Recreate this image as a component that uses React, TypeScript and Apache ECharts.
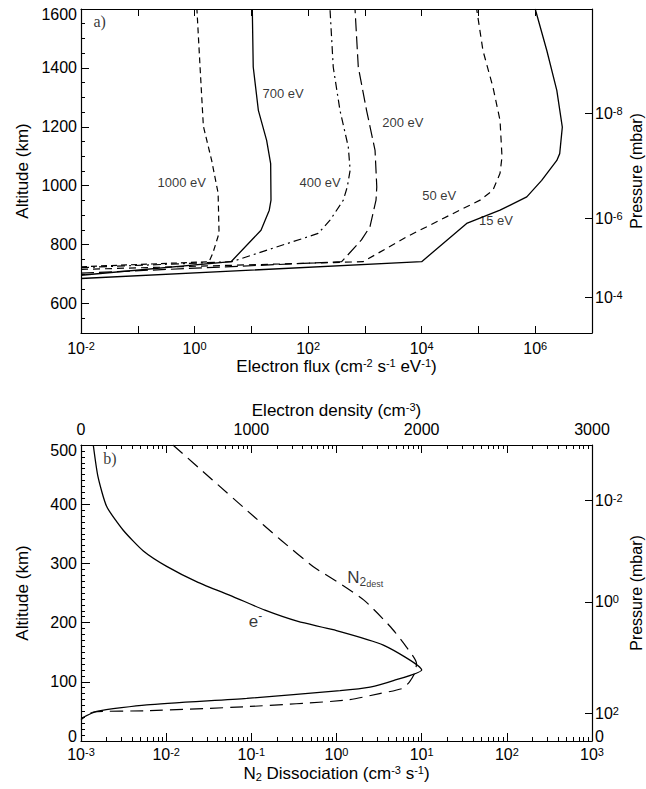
import React, { useEffect, useRef } from 'react';
import * as echarts from 'echarts';

const FONT = "'Liberation Sans', Arial, Helvetica, sans-serif";
const SERIF = "'Liberation Serif', 'Times New Roman', Times, serif";
const BLACK = '#000';

// ---------- Panel a: electron flux profiles (altitude km vs flux cm^-2 s^-1 eV^-1)
const alt15 = [685, 742, 872, 917, 962, 1018, 1086, 1109, 1199, 1324, 1459, 1600];
const flux15 = [1e-2, 1.0e4, 6.2e4, 2.4e5, 7.1e5, 1.3e6, 2.4e6, 2.7e6, 3.0e6, 2.4e6, 1.6e6, 1.0e6];
const alt50 = [716, 742, 827, 906, 951, 985, 1042, 1098, 1222, 1335, 1459, 1600];
const flux50 = [1e-2, 930, 5.5e3, 3.6e4, 1.07e5, 1.8e5, 2.4e5, 2.6e5, 2.4e5, 1.8e5, 1.2e5, 9.3e4];
const alt200 = [703, 742, 816, 861, 951, 996, 1120, 1256, 1403, 1600];
const flux200 = [1e-2, 390, 870, 1230, 1570, 1620, 1510, 1070, 765, 670];
const alt400 = [722, 742, 838, 883, 951, 996, 1053, 1132, 1256, 1403, 1600];
const flux400 = [1e-2, 4.5, 150, 243, 417, 490, 550, 510, 364, 277, 243];
const alt700 = [696, 742, 849, 917, 951, 1075, 1154, 1256, 1403, 1600];
const flux700 = [1e-2, 4.4, 14.8, 20.7, 22.2, 21.9, 18.6, 13.3, 10.8, 10.4];
const alt1000 = [725, 742, 771, 839, 975, 1086, 1202, 1403, 1600];
const flux1000 = [1e-2, 1.8, 2.1, 2.7, 2.6, 2.0, 1.43, 1.25, 1.1];

const energyLabels = ['1000 eV', '700 eV', '400 eV', '200 eV', '50 eV', '15 eV'];
const energyLabelFlux = [0.218, 15.4, 69, 1980, 1.0e4, 1.0e5];
const energyLabelAlt = [1010, 1314, 1010, 1216, 968, 881];

const fluxLogMin = -2;
const fluxLogMax = 7;
const altTopMin = 500;
const altTopMax = 1600;
const altTopLabels = [600, 800, 1000, 1200, 1400, 1600];
const presTopAlt = [1246, 890, 622];
const presTopExp = [-8, -6, -4];

// ---------- Panel b: electron density (cm^-3) and N2 dissociation (cm^-3 s^-1)
const eAlt = [500, 446, 396, 356, 321, 295, 268, 244, 221, 202, 188, 162, 120, 102, 91, 85, 72, 61, 50, 38];
const eDensity = [72, 100, 151, 248, 366, 503, 687, 892, 1080, 1274, 1480, 1775, 2000, 1834, 1697, 1521, 973, 386, 92, 0];
const n2Alt = [500, 441, 390, 340, 294, 266, 238, 193, 159, 131, 115, 100, 89, 80, 69, 58, 51, 49, 36];
const n2Rate = [0.012, 0.035, 0.088, 0.22, 0.54, 1.1, 2.1, 4.3, 6.6, 8.7, 8.3, 7.2, 6.0, 3.2, 1.3, 0.087, 0.0059, 0.0014, 0.001];

const rateLogMin = -3;
const rateLogMax = 3;
const densityMin = 0;
const densityMax = 3000;
const altBotMin = 0;
const altBotMax = 500;
const presBotAlt = [407, 235, 47];
const presBotExp = [-2, 0, 2];
const presBotZeroAlt = 0;

const tagText = ['a)', 'b)'];

// ---------- helpers
const axisLine = (show: boolean) => ({ show, onZero: false, lineStyle: { color: BLACK, width: 1.2 } });
const ticks = (length: number, extra: any = {}) => ({
  show: true,
  inside: true,
  length,
  lineStyle: { color: BLACK, width: 1 },
  ...extra,
});
const sup = { fontSize: 11, lineHeight: 8, verticalAlign: 'top', fontFamily: FONT, color: BLACK };
const sub = { fontSize: 11, lineHeight: 8, verticalAlign: 'bottom', fontFamily: FONT, color: BLACK };
const base16 = { fontSize: 16, lineHeight: 16, fontFamily: FONT, color: BLACK };
const powRich = { b: base16, s: sup };
const pow = (e: number) => `{b|10}{s|${e}}`;
const plainLabel = { fontSize: 16, color: BLACK, fontFamily: FONT };
// end labels of the altitude axes sit slightly inside the frame
const endRich = {
  n: base16,
  lo: { ...base16, padding: [0, 0, 10, 0] },
  hi: { ...base16, padding: [10, 0, 0, 0] },
  b: base16,
  s: sup,
};
const altFormatter = (lo: number, hi: number) => (v: number) =>
  v === lo ? `{lo|${v}}` : v === hi ? `{hi|${v}}` : `{n|${v}}`;
const titleStyle = {
  fontSize: 17, lineHeight: 18, color: BLACK, fontFamily: FONT,
  rich: { s: { ...sup, lineHeight: 9 }, u: { ...sub, lineHeight: 9 } },
};
const presTitleStyle = { ...titleStyle, fontSize: 16 };

const minorLogs = (lo: number, hi: number) => {
  const out: number[] = [];
  for (let n = lo; n < hi; n++) for (let k = 2; k <= 9; k++) out.push(n + Math.log10(k));
  return out;
};

const logPairs = (alts: number[], vals: number[]) => alts.map((a, i) => [Math.log10(vals[i]), a]);
const linPairs = (alts: number[], vals: number[]) => alts.map((a, i) => [vals[i], a]);

const lineSeries = (data: number[][], xi: number, yi: number, type: any, width = 1.2, smooth: any = false) => ({
  type: 'line',
  xAxisIndex: xi,
  yAxisIndex: yi,
  data,
  showSymbol: false,
  symbol: 'none',
  smooth,
  silent: true,
  lineStyle: { color: BLACK, width, type },
  z: 3,
});

const labelSeries = (items: any[], xi: number, yi: number) => ({
  type: 'scatter',
  xAxisIndex: xi,
  yAxisIndex: yi,
  symbolSize: 1,
  silent: true,
  itemStyle: { color: 'transparent' },
  label: { show: true, position: 'right', distance: 0, color: BLACK, fontFamily: FONT, fontSize: 13 },
  data: items,
  z: 5,
});

export default function App() {
  const ref = useRef<HTMLDivElement>(null);
  useEffect(() => {
    const chart = echarts.init(ref.current!, null, { renderer: 'svg' });
    const minorRate = minorLogs(rateLogMin, rateLogMax);

    const option: any = {
      animation: false,
      backgroundColor: '#fff',
      textStyle: { fontFamily: FONT, color: BLACK },
      grid: [
        { left: 81, top: 9, width: 511, height: 324, containLabel: false, outerBoundsMode: 'none' },
        { left: 81, top: 445, width: 511, height: 296, containLabel: false, outerBoundsMode: 'none' },
      ],
      xAxis: [
        {
          type: 'value', gridIndex: 0, position: 'bottom', min: fluxLogMin, max: fluxLogMax, interval: 1,
          axisLine: axisLine(true), axisTick: ticks(7), splitLine: { show: false },
          axisLabel: { margin: 7, formatter: (v: number) => (v % 2 === 0 ? pow(v) : ''), rich: powRich },
          name: 'Electron flux (cm{s|-2} s{s|-1} eV{s|-1})', nameLocation: 'middle', nameGap: 24,
          nameMoveOverlap: false, nameTextStyle: titleStyle,
        },
        {
          type: 'value', gridIndex: 0, position: 'top', min: fluxLogMin, max: fluxLogMax, interval: 1,
          axisLine: axisLine(true), axisTick: ticks(7), splitLine: { show: false }, axisLabel: { show: false },
        },
        {
          type: 'value', gridIndex: 1, position: 'bottom', min: rateLogMin, max: rateLogMax, interval: 1,
          axisLine: axisLine(true), axisTick: ticks(8), splitLine: { show: false },
          axisLabel: { margin: 5, formatter: (v: number) => pow(v), rich: powRich },
          name: 'N{u|2} Dissociation (cm{s|-3} s{s|-1})', nameLocation: 'middle', nameGap: 23,
          nameMoveOverlap: false, nameTextStyle: titleStyle,
        },
        {
          type: 'value', gridIndex: 1, position: 'bottom', min: rateLogMin, max: rateLogMax,
          axisLine: axisLine(false), axisTick: ticks(4, { customValues: minorRate }), splitLine: { show: false },
          axisLabel: { show: false },
        },
        {
          type: 'value', gridIndex: 1, position: 'top', min: densityMin, max: densityMax, interval: 1000,
          axisLine: axisLine(true), axisTick: { show: false }, splitLine: { show: false },
          axisLabel: { margin: 8, ...plainLabel, formatter: (v: number) => String(v) },
          name: 'Electron density (cm{s|-3})', nameLocation: 'middle', nameGap: 26,
          nameMoveOverlap: false, nameTextStyle: titleStyle,
        },
        {
          type: 'value', gridIndex: 1, position: 'top', min: rateLogMin, max: rateLogMax, interval: 1,
          axisLine: axisLine(false), axisTick: ticks(8), splitLine: { show: false }, axisLabel: { show: false },
        },
        {
          type: 'value', gridIndex: 1, position: 'top', min: rateLogMin, max: rateLogMax,
          axisLine: axisLine(false), axisTick: ticks(4, { customValues: minorRate }), splitLine: { show: false },
          axisLabel: { show: false },
        },
      ],
      yAxis: [
        {
          type: 'value', gridIndex: 0, position: 'left', min: altTopMin, max: altTopMax, interval: 100,
          axisLine: axisLine(true), axisTick: ticks(8, { customValues: altTopLabels }), splitLine: { show: false },
          axisLabel: {
            margin: 4, customValues: altTopLabels, ...plainLabel, rich: endRich,
            formatter: altFormatter(-1, altTopMax),
          },
          name: 'Altitude (km)', nameLocation: 'middle', nameGap: 50, nameRotate: 90,
          nameMoveOverlap: false, nameTextStyle: titleStyle,
        },
        {
          type: 'value', gridIndex: 0, position: 'left', min: altTopMin, max: altTopMax, interval: 50,
          axisLine: axisLine(false), axisTick: ticks(4), splitLine: { show: false }, axisLabel: { show: false },
        },
        {
          type: 'value', gridIndex: 0, position: 'right', min: altTopMin, max: altTopMax, interval: 100,
          axisLine: axisLine(true), axisTick: ticks(7, { customValues: presTopAlt }), splitLine: { show: false },
          axisLabel: {
            margin: 3, customValues: presTopAlt, rich: powRich,
            formatter: (v: number) => pow(presTopExp[presTopAlt.indexOf(v)]),
          },
          name: 'Pressure (mbar)', nameLocation: 'middle', nameGap: 35, nameRotate: 90,
          nameMoveOverlap: false, nameTextStyle: presTitleStyle,
        },
        {
          type: 'value', gridIndex: 1, position: 'left', min: altBotMin, max: altBotMax, interval: 100,
          axisLine: axisLine(true), axisTick: ticks(9), splitLine: { show: false },
          axisLabel: { margin: 4, ...plainLabel, rich: endRich, formatter: altFormatter(altBotMin, altBotMax) },
          name: 'Altitude (km)', nameLocation: 'middle', nameGap: 50, nameRotate: 90,
          nameMoveOverlap: false, nameTextStyle: titleStyle,
        },
        {
          type: 'value', gridIndex: 1, position: 'left', min: altBotMin, max: altBotMax, interval: 10,
          axisLine: axisLine(false), axisTick: ticks(4), splitLine: { show: false }, axisLabel: { show: false },
        },
        {
          type: 'value', gridIndex: 1, position: 'right', min: altBotMin, max: altBotMax, interval: 100,
          axisLine: axisLine(true), axisTick: ticks(7, { customValues: presBotAlt }), splitLine: { show: false },
          axisLabel: {
            margin: 3, customValues: [...presBotAlt, presBotZeroAlt], rich: endRich,
            formatter: (v: number) => (v === presBotZeroAlt ? `{lo|${v}}` : pow(presBotExp[presBotAlt.indexOf(v)])),
          },
          name: 'Pressure (mbar)', nameLocation: 'middle', nameGap: 35, nameRotate: 90,
          nameMoveOverlap: false, nameTextStyle: presTitleStyle,
        },
      ],
      series: [
        lineSeries(logPairs(alt15, flux15), 0, 0, 'solid', 1.3),
        lineSeries(logPairs(alt50, flux50), 0, 0, [7, 5]),
        lineSeries(logPairs(alt200, flux200), 0, 0, [13, 5]),
        lineSeries(logPairs(alt400, flux400), 0, 0, [8, 4, 2, 4]),
        lineSeries(logPairs(alt700, flux700), 0, 0, 'solid', 1.3),
        lineSeries(logPairs(alt1000, flux1000), 0, 0, [6, 4]),
        lineSeries(linPairs(eAlt, eDensity), 4, 3, 'solid', 1.3, 0.2),
        lineSeries(logPairs(n2Alt, n2Rate), 2, 3, [13, 7], 1.2, 0.2),
        labelSeries(
          energyLabels.map((t, i) => ({
            value: [Math.log10(energyLabelFlux[i]), energyLabelAlt[i]],
            label: { formatter: t },
          })),
          0, 0,
        ),
        labelSeries(
          [{ value: [Math.log10(0.01626), 1557], label: { formatter: tagText[0], fontFamily: SERIF, fontSize: 16 } }],
          0, 0,
        ),
        labelSeries(
          [{ value: [Math.log10(0.0018), 477], label: { formatter: tagText[1], fontFamily: SERIF, fontSize: 16 } }],
          2, 3,
        ),
        labelSeries(
          [{
            value: [982, 202],
            label: {
              formatter: '{b|e}{s|-}',
              rich: { b: { fontSize: 17, lineHeight: 22, fontFamily: FONT, color: BLACK }, s: { ...sup, fontSize: 12, lineHeight: 10 } },
            },
          }],
          4, 3,
        ),
        labelSeries(
          [{
            value: [Math.log10(1.32), 277],
            label: {
              formatter: '{n|N}{a|2}{d|dest}',
              rich: {
                n: { fontSize: 17, lineHeight: 22, fontFamily: FONT, color: BLACK },
                a: { fontSize: 12, lineHeight: 12, verticalAlign: 'bottom', fontFamily: FONT, color: BLACK },
                d: { fontSize: 9, lineHeight: 10, verticalAlign: 'bottom', fontFamily: FONT, color: BLACK },
              },
            },
          }],
          2, 3,
        ),
      ],
    };
    chart.setOption(option);
    return () => chart.dispose();
  }, []);
  return (
    <div
      ref={ref}
      style={{ position: 'fixed', left: 0, top: 0, width: 646, height: 789, background: '#fff' }}
    />
  );
}
